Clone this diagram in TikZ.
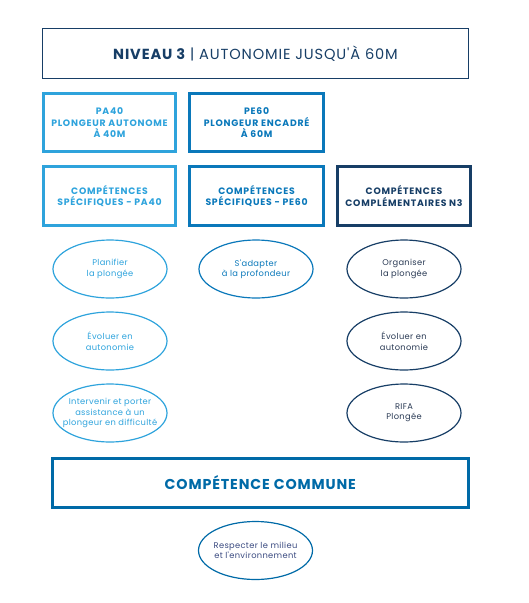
\documentclass[tikz,border=0pt]{standalone}
\usepackage{fontspec}
\setmainfont{Poppins}
\newfontfamily\hdfont[LetterSpace=8]{Poppins}
\newfontfamily\ttlfont[LetterSpace=6]{Poppins}
\newfontfamily\elfont[LetterSpace=4]{Poppins}
\usetikzlibrary{shapes.geometric}
\definecolor{cLight}{HTML}{2EA3DC}
\definecolor{cMed}{HTML}{0A78BA}
\definecolor{cNavy}{HTML}{173E66}
\definecolor{cCom}{HTML}{006AA7}
\definecolor{cTxtN}{HTML}{2B3B55}
\definecolor{cTxtB}{HTML}{3A4A80}
\tikzset{
  hbox/.style={draw, line width=3pt, rectangle, inner sep=0pt, align=center,
    font=\hdfont\bfseries\fontsize{9.3}{11.5}\selectfont},
  ell/.style={draw, ellipse, line width=1.2pt, inner sep=0pt, minimum width=114pt, minimum height=58pt},
  etext/.style={align=center, font=\elfont\fontsize{8.3}{10.4}\selectfont}
}
\begin{document}
\begin{tikzpicture}[x=1pt,y=-1pt]
\useasboundingbox (0,0) rectangle (529,603);
% title
\node[draw=cNavy, line width=1pt, minimum width=426pt, minimum height=50pt, inner sep=0pt,
  text=cNavy, font=\ttlfont\fontsize{14.6}{16}\selectfont] (title) at (255.5,53.5)
  {{\bfseries NIVEAU 3} | AUTONOMIE JUSQU'À 60M};
% row 1
\node[hbox, draw=cLight, text=cLight, minimum width=131.5pt, minimum height=58pt] (pa40) at (109.5,122.8)
  {PA40\\PLONGEUR AUTONOME\\À 40M};
\node[hbox, draw=cMed, text=cMed, minimum width=133.5pt, minimum height=58pt] (pe60) at (256.6,122.8)
  {PE60\\PLONGEUR ENCADRÉ\\À 60M};
% row 2
\node[hbox, draw=cLight, text=cLight, minimum width=131.5pt, minimum height=59pt] (spa) at (109.5,196)
  {COMPÉTENCES\\SPÉCIFIQUES - PA40};
\node[hbox, draw=cMed, text=cMed, minimum width=133.5pt, minimum height=59pt] (spe) at (256.6,196)
  {COMPÉTENCES\\SPÉCIFIQUES - PE60};
\node[hbox, draw=cNavy, text=cNavy, minimum width=133pt, minimum height=59pt] (cn3) at (404,196)
  {COMPÉTENCES\\COMPLÉMENTAIRES N3};
% ellipses column 1
\node[ell, draw=cLight] (e11) at (110,269) {};
\node[etext, text=cLight] (t11) at (e11) {Planifier\\la plongée};
\node[ell, draw=cLight] (e12) at (110,341) {};
\node[etext, text=cLight] (t12) at (e12) {Évoluer en\\autonomie};
\node[ell, draw=cLight] (e13) at (110,413) {};
\node[etext, text=cLight] (t13) at (e13) {Intervenir et porter\\assistance à un\\plongeur en difficulté};
% column 2
\node[ell, draw=cMed] (e21) at (256,269) {};
\node[etext, text=cMed] (t21) at (e21) {S'adapter\\à la profondeur};
% column 3
\node[ell, draw=cNavy] (e31) at (404,269) {};
\node[etext, text=cTxtN] (t31) at (e31) {Organiser\\la plongée};
\node[ell, draw=cNavy] (e32) at (404,341) {};
\node[etext, text=cTxtN] (t32) at (e32) {Évoluer en\\autonomie};
\node[ell, draw=cNavy] (e33) at (404,413) {};
\node[etext, text=cTxtN] (t33) at (e33) {RIFA\\Plongée};
% common
\node[draw=cCom, line width=3pt, minimum width=416pt, minimum height=49pt, inner sep=0pt,
  text=cCom, font=\ttlfont\bfseries\fontsize{14.3}{16}\selectfont] (com) at (260.3,482.8)
  {COMPÉTENCE COMMUNE};
\node[ell, draw=cCom] (e41) at (255.5,550.5) {};
\node[etext, text=cTxtB] (t41) at (e41) {Respecter le milieu\\et l'environnement};
\end{tikzpicture}
\end{document}
